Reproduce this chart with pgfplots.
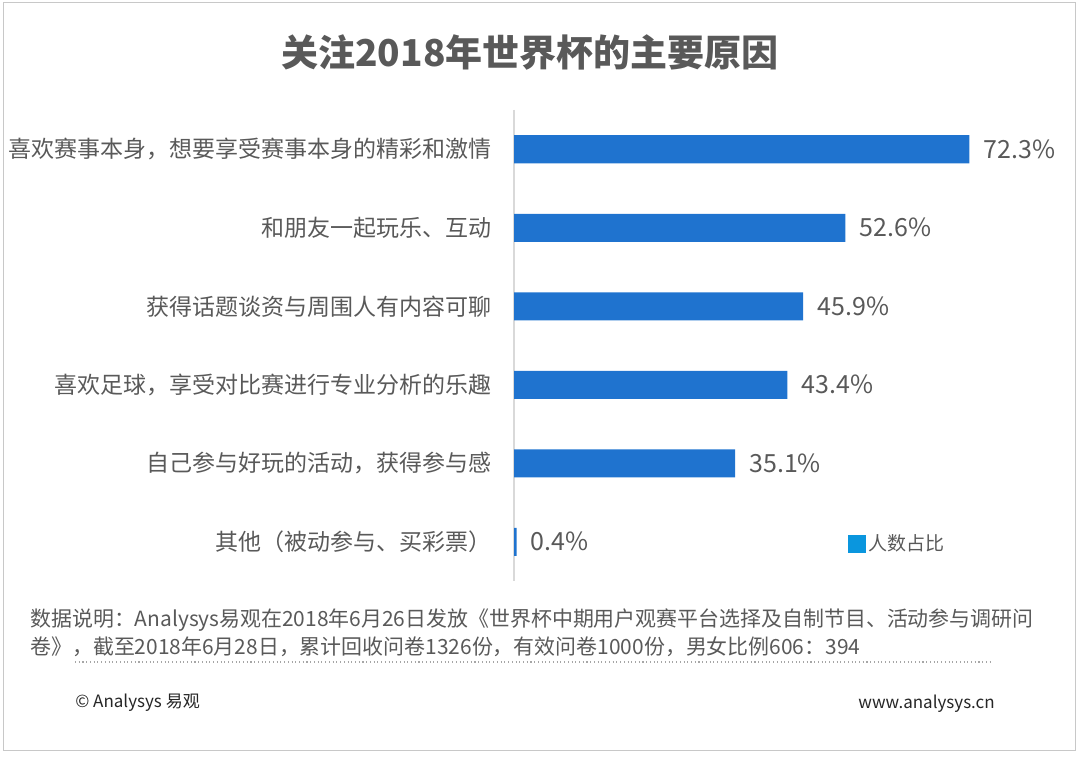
\documentclass[border=0pt]{standalone}
\usepackage{fontspec}
\setmainfont{Noto Sans CJK SC}
\usepackage{pgfplots}
\pgfplotsset{compat=1.18}
\definecolor{txtgray}{HTML}{595959}
\definecolor{barblue}{HTML}{1F73CF}
\definecolor{legblue}{HTML}{0A96DE}
\definecolor{axgray}{HTML}{D9D9D9}
\definecolor{framegray}{HTML}{C8C8C8}
\begin{document}
\begin{tikzpicture}
\path[use as bounding box] (0,0) rectangle (810pt,567pt);
\draw[framegray, line width=0.7pt] (2.25pt,4.5pt) rectangle (806.25pt,565.5pt);
\node[font=\fontsize{27.75pt}{32pt}\selectfont\bfseries, text=txtgray] at (397.5pt,528pt) {关注2018年世界杯的主要原因};
\begin{axis}[
  at={(385.5pt,131.25pt)}, anchor=south west,
  scale only axis, width=378pt, height=353.25pt,
  xbar, bar width=21pt,
  xmin=0, xmax=80,
  ymin=-0.5, ymax=5.5, y dir=reverse,
  axis x line=none,
  axis y line*=left,
  y axis line style={axgray, line width=0.8pt, -},
  ytick={0,1,2,3,4,5},
  yticklabels={喜欢赛事本身，想要享受赛事本身的精彩和激情, 和朋友一起玩乐、互动, 获得话题谈资与周围人有内容可聊, 喜欢足球，享受对比赛进行专业分析的乐趣, 自己参与好玩的活动，获得参与感, 其他（被动参与、买彩票）},
  major tick length=0pt,
  yticklabel style={font=\fontsize{17.25pt}{20pt}\selectfont, text=txtgray, inner sep=0pt, xshift=-16.5pt},
  point meta=x,
  nodes near coords={\pgfmathprintnumber[assume math mode=true, fixed, fixed zerofill, precision=1]{\pgfplotspointmeta}\%},
  nodes near coords style={font=\fontsize{18.75pt}{22pt}\selectfont, text=txtgray, anchor=west, inner sep=0pt, xshift=10.5pt},
  legend image code/.code={\fill[legblue] (0pt,-6.75pt) rectangle (13.5pt,6.75pt);},
  legend style={at={(0.6627,0.0786)}, anchor=west, draw=none, fill=none, inner sep=0pt, font=\fontsize{14.25pt}{17pt}\selectfont, text=txtgray},
  clip=false,
]
\addplot[fill=barblue, draw=none] coordinates {(72.3,0) (52.6,1) (45.9,2) (43.4,3) (35.1,4) (0.4,5)};
\addlegendentry{人数占比}
\end{axis}
\node[anchor=west, inner sep=0pt, font=\fontsize{15.7pt}{18pt}\selectfont, text=txtgray] at (22.5pt,102pt) {数据说明：Analysys易观在2018年6月26日发放《世界杯中期用户观赛平台选择及自制节目、活动参与调研问};
\node[anchor=west, inner sep=0pt, font=\fontsize{15.7pt}{18pt}\selectfont, text=txtgray] at (22.5pt,81.75pt) {卷》，截至2018年6月28日，累计回收问卷1326份，有效问卷1000份，男女比例606：394};
\draw[gray!70, line width=0.8pt, dotted] (56.25pt,70.5pt) -- (744.75pt,70.5pt);
\node[anchor=west, inner sep=0pt, font=\fontsize{12.75pt}{15pt}\selectfont, text=black!85] at (56.25pt,39.75pt) {© Analysys 易观};
\node[anchor=east, inner sep=0pt, font=\fontsize{12.75pt}{15pt}\selectfont, text=black!85] at (746.25pt,39pt) {www.analysys.cn};
\end{tikzpicture}
\end{document}
